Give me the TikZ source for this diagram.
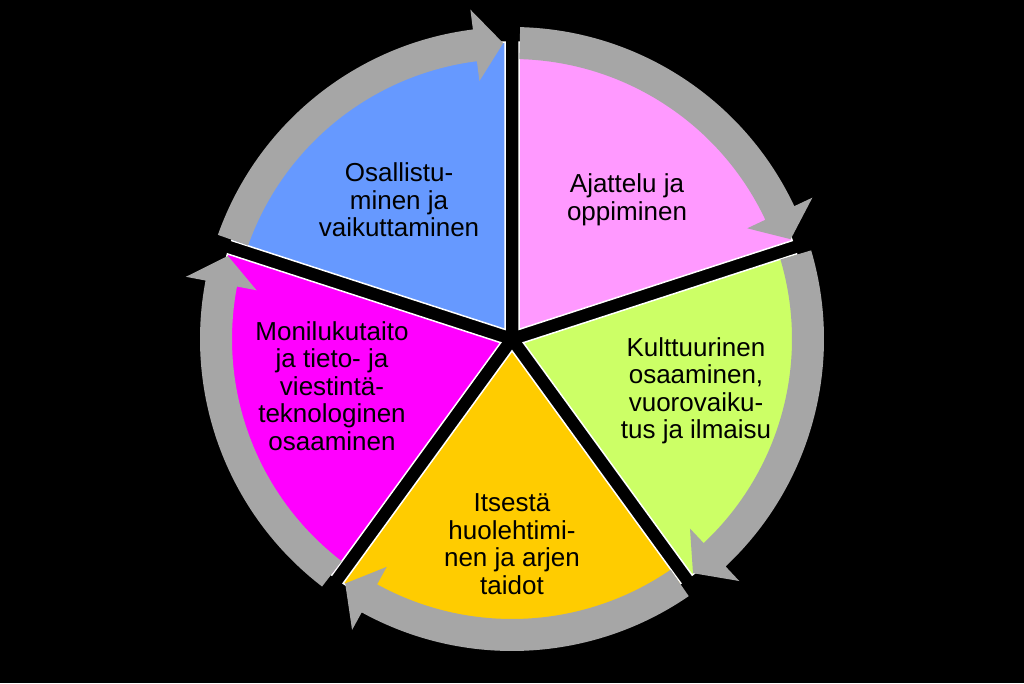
\documentclass[tikz,border=0pt]{standalone}
\usepackage{fontspec}
\setmainfont{Liberation Sans}
\definecolor{cblue}{RGB}{102,153,255}
\definecolor{cpink}{RGB}{255,153,255}
\definecolor{cgreen}{RGB}{204,255,102}
\definecolor{cyellow}{RGB}{255,204,0}
\definecolor{cmag}{RGB}{255,0,255}
\definecolor{cgray}{RGB}{166,166,166}
\begin{document}
\begin{tikzpicture}[x=1pt,y=1pt,
  wedge/.style={draw=white, line width=1.5pt, line join=miter},
  ringarrow/.style={fill=cgray},
  lbl/.style={align=center, font=\fontsize{26}{27.5}\selectfont, text=black, inner sep=0pt}]
\fill[black] (0,0) rectangle (1024,683);
\useasboundingbox (0,0) rectangle (1024,683);
\begin{scope}[shift={(512,344)}]
\foreach \c/\col in {126/cblue, 54/cpink, -18/cgreen, -90/cyellow, -162/cmag}{
  \pgfmathsetmacro\aa{\c+34.65}
  \pgfmathsetmacro\ab{\c-34.65}
  \path[wedge, fill=\col] (\c:11.9) -- (\aa:297) arc[start angle=\aa, end angle=\ab, radius=297] -- cycle;
}
\foreach \g in {162, 90, 18, -54, -126}{
  \pgfmathsetmacro\ts{\g-1.5}
  \pgfmathsetmacro\hb{\g-72+7.2}
  \pgfmathsetmacro\tp{\g-72+1.7}
  \fill[ringarrow] (\ts:312) arc[start angle=\ts, end angle=\hb, radius=312] -- (\hb:332) -- (\tp:296) -- (\hb:260) -- (\hb:280) arc[start angle=\hb, end angle=\ts, radius=280] -- cycle;
}
\end{scope}
\node[lbl] (t1) at (399,483) {Osallistu-\\minen ja\\vaikuttaminen};
\node[lbl] (t2) at (627,483) {Ajattelu ja\\oppiminen};
\node[lbl] (t3) at (696,292) {Kulttuurinen\\osaaminen,\\vuorovaiku-\\tus ja ilmaisu};
\node[lbl] (t4) at (512,139) {Itsestä\\huolehtimi-\\nen ja arjen\\taidot};
\node[lbl] (t5) at (332,297) {Monilukutaito\\ja tieto- ja\\viestintä-\\teknologinen\\osaaminen};
\end{tikzpicture}
\end{document}
